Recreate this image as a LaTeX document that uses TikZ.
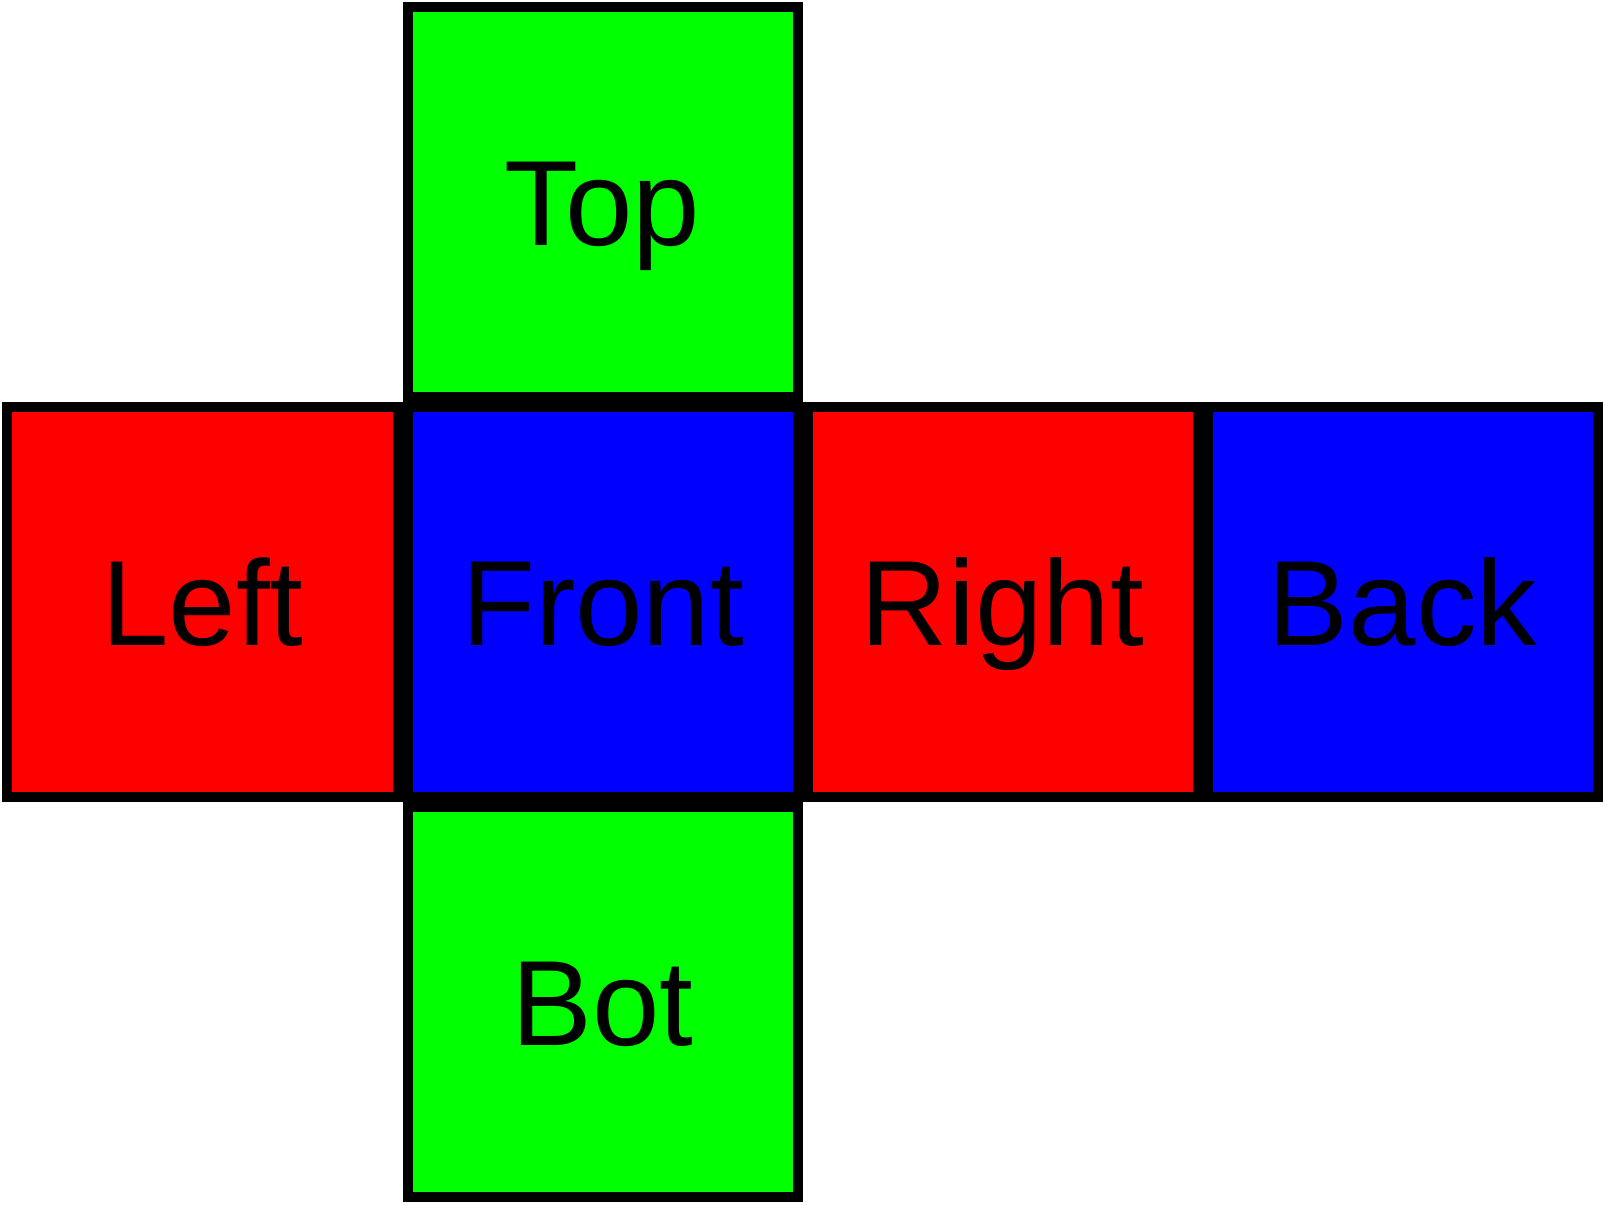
\documentclass[tikz,border=0pt]{standalone}
\usepackage{fontspec}
\setmainfont{Liberation Sans}
\definecolor{facered}{RGB}{255,0,0}
\definecolor{faceblue}{RGB}{0,0,255}
\definecolor{facegreen}{RGB}{0,255,0}
\begin{document}
\begin{tikzpicture}[face/.style={draw=black,fill=#1,line width=0.1cm,minimum size=3.9cm,inner sep=0pt,
                    font=\fontsize{34.5pt}{40pt}\selectfont,text height=24.7pt,text depth=0pt}]
                \useasboundingbox (-2.025,-2.025) rectangle (14.025,10.025);
                \node[face=facered] (left) at (0,4) {Left};
                \node[face=faceblue] (front) at (4,4) {Front};
                \node[face=facered] (right) at (8,4) {Right};
                \node[face=faceblue] (back) at (12,4) {Back};
                \node[face=facegreen] (top) at (4,8) {Top};
                \node[face=facegreen] (bot) at (4,0) {Bot};
            \end{tikzpicture}
\end{document}
